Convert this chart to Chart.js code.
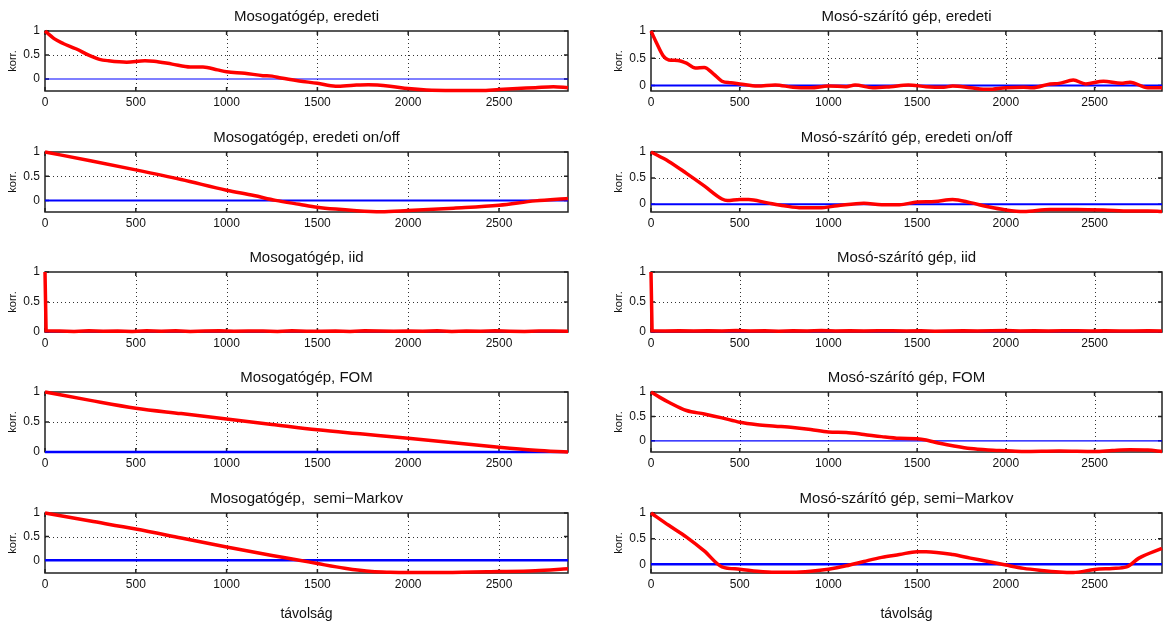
<!DOCTYPE html>
<html>
<head>
<meta charset="utf-8">
<script src="https://cdn.jsdelivr.net/npm/chart.js@4.4.1/dist/chart.umd.min.js"></script>
<style>
  body { margin: 0; width: 1164px; height: 623px; overflow: hidden; background: #fff; position: relative; }
  canvas { position: absolute; }
</style>
</head>
<body>
<script>
// autocorrelation vs. lag (minutes), two appliances, five models each
const xTickValues = [0, 500, 1000, 1500, 2000, 2500]
const yTickValues = [0, 0.5, 1]

const mosoEredetiLag = [0, 25, 50, 100, 170, 250, 300, 350, 450, 550, 600, 700, 800, 870, 950, 1000, 1100, 1200, 1250, 1300, 1400, 1500, 1600, 1700, 1780, 1900, 2000, 2100, 2250, 2400, 2500, 2600, 2700, 2800, 2880]
const mosoEredetiKorr = [1.0, 0.92, 0.84, 0.74, 0.63, 0.48, 0.41, 0.38, 0.35, 0.38, 0.37, 0.31, 0.25, 0.25, 0.19, 0.15, 0.12, 0.07, 0.06, 0.02, -0.04, -0.09, -0.15, -0.13, -0.12, -0.15, -0.2, -0.23, -0.24, -0.24, -0.22, -0.2, -0.18, -0.16, -0.18]

const szaritoEredetiLag = [0, 30, 70, 100, 150, 200, 250, 300, 350, 400, 450, 500, 600, 700, 800, 900, 1000, 1100, 1150, 1250, 1350, 1450, 1550, 1650, 1700, 1800, 1900, 2000, 2100, 2150, 2250, 2300, 2380, 2450, 2550, 2650, 2700, 2800, 2880]
const szaritoEredetiKorr = [1.0, 0.79, 0.54, 0.47, 0.46, 0.41, 0.32, 0.33, 0.22, 0.08, 0.05, 0.03, -0.01, 0.01, -0.03, -0.04, -0.01, -0.02, 0.01, -0.04, -0.02, 0.01, -0.02, -0.03, -0.01, -0.04, -0.07, -0.04, -0.03, -0.04, 0.03, 0.04, 0.1, 0.03, 0.08, 0.04, 0.06, -0.04, -0.04]

const mosoOnOffLag = [0, 250, 500, 750, 1000, 1150, 1270, 1400, 1500, 1600, 1700, 1850, 2000, 2250, 2500, 2700, 2880]
const mosoOnOffKorr = [1.0, 0.82, 0.63, 0.43, 0.21, 0.1, 0.0, -0.08, -0.14, -0.18, -0.21, -0.235, -0.21, -0.16, -0.1, -0.01, 0.04]

const szaritoOnOffLag = [0, 100, 200, 300, 400, 430, 500, 550, 650, 750, 850, 950, 1050, 1200, 1300, 1400, 1500, 1600, 1700, 1800, 1900, 2000, 2100, 2250, 2400, 2550, 2700, 2800, 2880]
const szaritoOnOffKorr = [1.0, 0.82, 0.59, 0.35, 0.1, 0.07, 0.09, 0.09, 0.03, -0.03, -0.07, -0.07, -0.03, 0.02, -0.01, -0.01, 0.04, 0.05, 0.09, 0.03, -0.05, -0.11, -0.14, -0.1, -0.1, -0.11, -0.13, -0.13, -0.14]

const iidLag = [0, 6, 80, 160, 240, 320, 400, 480, 560, 640, 720, 800, 880, 960, 1040, 1120, 1200, 1280, 1360, 1440, 1520, 1600, 1680, 1760, 1840, 1920, 2000, 2080, 2160, 2240, 2320, 2400, 2480, 2560, 2640, 2720, 2800, 2880]
const mosoIidKorr = [1.0, 0.02, 0.015, 0.01, 0.02, 0.012, 0.018, 0.01, 0.022, 0.014, 0.02, 0.01, 0.016, 0.02, 0.012, 0.018, 0.015, 0.01, 0.02, 0.014, 0.012, 0.018, 0.01, 0.02, 0.015, 0.012, 0.018, 0.014, 0.02, 0.01, 0.016, 0.012, 0.02, 0.014, 0.01, 0.018, 0.015, 0.012]
const szaritoIidKorr = [1.0, 0.02, 0.018, 0.022, 0.015, 0.02, 0.017, 0.023, 0.016, 0.02, 0.014, 0.021, 0.018, 0.024, 0.016, 0.02, 0.015, 0.019, 0.022, 0.016, 0.02, 0.014, 0.018, 0.021, 0.016, 0.02, 0.023, 0.017, 0.02, 0.015, 0.019, 0.022, 0.016, 0.02, 0.018, 0.015, 0.02, 0.018]

const mosoFomLag = [0, 250, 500, 750, 1000, 1250, 1500, 1750, 2000, 2250, 2500, 2700, 2880]
const mosoFomKorr = [1.0, 0.86, 0.73, 0.64, 0.55, 0.46, 0.37, 0.3, 0.23, 0.155, 0.08, 0.03, 0.0]

const szaritoFomLag = [0, 50, 100, 200, 300, 400, 500, 600, 700, 800, 900, 1000, 1100, 1200, 1300, 1400, 1500, 1550, 1600, 1700, 1800, 1900, 2000, 2100, 2300, 2500, 2600, 2700, 2800, 2880]
const szaritoFomKorr = [1.0, 0.89, 0.79, 0.62, 0.55, 0.47, 0.38, 0.33, 0.3, 0.27, 0.23, 0.18, 0.17, 0.13, 0.085, 0.05, 0.04, 0.015, -0.03, -0.1, -0.16, -0.19, -0.205, -0.22, -0.21, -0.22, -0.2, -0.185, -0.19, -0.22]

const mosoSemiLag = [0, 250, 500, 750, 1000, 1250, 1400, 1500, 1650, 1800, 1900, 2000, 2200, 2500, 2700, 2880]
const mosoSemiKorr = [1.0, 0.83, 0.66, 0.47, 0.28, 0.1, 0.0, -0.07, -0.17, -0.24, -0.255, -0.26, -0.26, -0.24, -0.22, -0.18]

const szaritoSemiLag = [0, 100, 200, 300, 400, 500, 600, 700, 800, 900, 1000, 1100, 1200, 1300, 1400, 1500, 1550, 1700, 1800, 1900, 2000, 2100, 2200, 2300, 2380, 2500, 2600, 2680, 2750, 2880]
const szaritoSemiKorr = [1.0, 0.76, 0.53, 0.26, -0.05, -0.095, -0.135, -0.155, -0.155, -0.135, -0.095, -0.03, 0.055, 0.135, 0.19, 0.245, 0.245, 0.19, 0.12, 0.055, -0.015, -0.08, -0.12, -0.15, -0.16, -0.1, -0.08, -0.05, 0.12, 0.31]

const FONT = "'Liberation Sans', Arial, Helvetica, sans-serif"
const colLeft = [45, 651]
const colWidth = [523, 511]
const rowTop = [31, 152, 272, 392, 513]
const plotH = 60

const panels = [
	{ col: 0, row: 0, title: 'Mosogatógép, eredeti', lag: mosoEredetiLag, korr: mosoEredetiKorr, yMin: -0.25, zeroW: 1.2 },
	{ col: 1, row: 0, title: 'Mosó-szárító gép, eredeti', lag: szaritoEredetiLag, korr: szaritoEredetiKorr, yMin: -0.1, zeroW: 2 },
	{ col: 0, row: 1, title: 'Mosogatógép, eredeti on/off', lag: mosoOnOffLag, korr: mosoOnOffKorr, yMin: -0.24, zeroW: 2 },
	{ col: 1, row: 1, title: 'Mosó-szárító gép, eredeti on/off', lag: szaritoOnOffLag, korr: szaritoOnOffKorr, yMin: -0.15, zeroW: 2 },
	{ col: 0, row: 2, title: 'Mosogatógép, iid', lag: iidLag, korr: mosoIidKorr, yMin: 0, zeroW: 1.2, flat: true },
	{ col: 1, row: 2, title: 'Mosó-szárító gép, iid', lag: iidLag, korr: szaritoIidKorr, yMin: 0, zeroW: 1.2, flat: true },
	{ col: 0, row: 3, title: 'Mosogatógép, FOM', lag: mosoFomLag, korr: mosoFomKorr, yMin: 0, zeroW: 2.5 },
	{ col: 1, row: 3, title: 'Mosó-szárító gép, FOM', lag: szaritoFomLag, korr: szaritoFomKorr, yMin: -0.23, zeroW: 1.2 },
	{ col: 0, row: 4, title: 'Mosogatógép,  semi\u2212Markov', lag: mosoSemiLag, korr: mosoSemiKorr, yMin: -0.27, zeroW: 2.5 },
	{ col: 1, row: 4, title: 'Mosó-szárító gép, semi\u2212Markov', lag: szaritoSemiLag, korr: szaritoSemiKorr, yMin: -0.17, zeroW: 2.5 },
]

// dotted grid, inward ticks and the box, like a matlab axes
const axesBox = {
	id: 'axesBox',
	beforeDatasetsDraw(chart) {
		const { ctx, chartArea: a, scales: { x, y } } = chart
		ctx.save()
		ctx.strokeStyle = '#333'
		ctx.lineWidth = 1
		ctx.setLineDash([1, 3])
		ctx.beginPath()
		x.ticks.forEach(t => {
			if (t.value <= 0) return
			const px = Math.round(x.getPixelForValue(t.value)) + 0.5
			ctx.moveTo(px, a.top)
			ctx.lineTo(px, a.bottom)
		})
		// the zero line is drawn as a dataset, so only 0.5 gets a dotted line
		y.ticks.forEach(t => {
			if (t.value >= 1 || t.value <= 0) return
			const py = Math.round(y.getPixelForValue(t.value)) + 0.5
			ctx.moveTo(a.left, py)
			ctx.lineTo(a.right, py)
		})
		ctx.stroke()
		ctx.setLineDash([])

		ctx.strokeStyle = '#222'
		ctx.lineWidth = 1.5
		ctx.beginPath()
		x.ticks.forEach(t => {
			const px = x.getPixelForValue(t.value)
			ctx.moveTo(px, a.bottom); ctx.lineTo(px, a.bottom - 4)
			ctx.moveTo(px, a.top); ctx.lineTo(px, a.top + 4)
		})
		y.ticks.forEach(t => {
			const py = y.getPixelForValue(t.value)
			ctx.moveTo(a.left, py); ctx.lineTo(a.left + 4, py)
			ctx.moveTo(a.right, py); ctx.lineTo(a.right - 4, py)
		})
		ctx.stroke()
		ctx.strokeRect(a.left, a.top, a.width, a.height)
		ctx.restore()
	},
}

panels.forEach(p => {
	const last = p.row === 4
	const axisH = last ? 50 : 24
	const cv = document.createElement('canvas')
	cv.width = 45 + colWidth[p.col] + 2
	cv.height = 31 + plotH + axisH
	cv.style.left = (colLeft[p.col] - 45) + 'px'
	cv.style.top = (rowTop[p.row] - 31) + 'px'
	document.body.appendChild(cv)

	new Chart(cv, {
		type: 'line',
		data: {
			datasets: [
				{
					data: p.lag.map((v, i) => ({ x: v, y: p.korr[i] })),
					borderColor: '#ff0000',
					borderWidth: 3.5,
					pointRadius: 0,
					tension: 0,
					cubicInterpolationMode: p.flat ? 'default' : 'monotone',
					clip: 4,
				},
				{
					data: [{ x: 0, y: 0 }, { x: 2880, y: 0 }],
					borderColor: '#0000ff',
					borderWidth: p.zeroW,
					pointRadius: 0,
					clip: 4,
				},
			],
		},
		options: {
			responsive: false,
			animation: false,
			events: [],
			layout: { padding: { left: 0, right: 2, top: 0, bottom: 0 } },
			plugins: {
				legend: { display: false },
				tooltip: { enabled: false },
				title: {
					display: true,
					text: p.title,
					fullSize: false,
					color: '#111',
					font: { family: FONT, size: 15, weight: 'normal' },
					padding: { top: 8, bottom: 5 },
				},
			},
			scales: {
				x: {
					type: 'linear',
					min: 0,
					max: 2880,
					afterBuildTicks: s => { s.ticks = xTickValues.map(v => ({ value: v })) },
					afterFit: s => { s.height = axisH },
					grid: { display: false, drawTicks: false },
					border: { display: false },
					ticks: { callback: v => String(v), color: '#111', font: { family: FONT, size: 12 }, padding: 4, maxRotation: 0, autoSkip: false },
					title: { display: last, text: 'távolság', color: '#111', font: { family: FONT, size: 14 }, padding: { top: 0, bottom: 0 } },
				},
				y: {
					type: 'linear',
					min: p.yMin,
					max: 1,
					afterBuildTicks: s => { s.ticks = yTickValues.map(v => ({ value: v })) },
					afterFit: s => { s.width = 45 },
					grid: { display: false, drawTicks: false },
					border: { display: false },
					ticks: { callback: v => String(v), color: '#111', font: { family: FONT, size: 12 }, padding: 5 },
					title: { display: true, text: 'korr.', color: '#111', font: { family: FONT, size: 11 }, padding: { top: 6, bottom: 0 } },
				},
			},
		},
		plugins: [axesBox],
	})
})
</script>
</body>
</html>
